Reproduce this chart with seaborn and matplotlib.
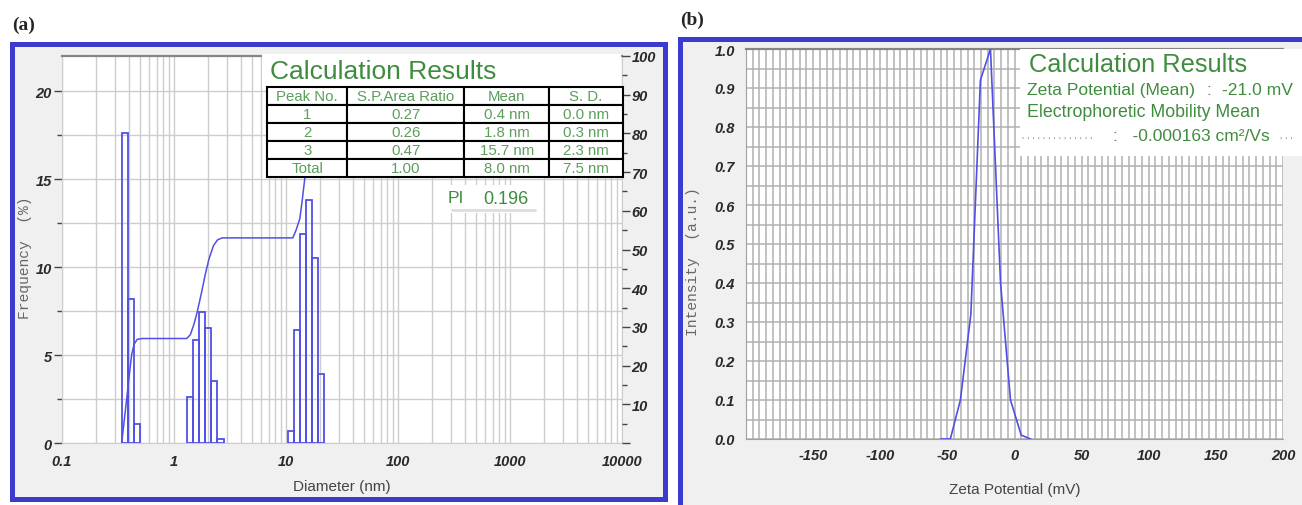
import numpy as np
import matplotlib.pyplot as plt
import matplotlib.ticker as mticker
from matplotlib.patches import Rectangle
from matplotlib.lines import Line2D
import seaborn as sns

# --- (a) size distribution: three peaks, bin edges (nm) and frequency (%) ---
peak1_edges = [0.341, 0.386, 0.437, 0.500]
peak1_freq = [17.6, 8.2, 1.1]
peak2_edges = [1.30, 1.47, 1.66, 1.89, 2.14, 2.44, 2.79]
peak2_freq = [2.6, 5.85, 7.45, 6.55, 3.5, 0.2]
peak3_edges = [10.5, 11.86, 13.3, 15.0, 17.2, 19.4, 22.0]
peak3_freq = [0.7, 6.4, 11.9, 13.8, 10.5, 3.9]

# cumulative curve (right axis, %)
cum_diam = [0.341, 0.36, 0.38, 0.40, 0.42, 0.44, 0.47, 0.52, 1.30, 1.40, 1.50, 1.60,
            1.75, 1.90, 2.05, 2.25, 2.45, 2.70, 11.5, 12.3, 13.3, 14.0, 14.8, 16.0,
            17.2, 18.5, 20.0, 22.0, 24.0]
cum_pct = [0, 6, 12, 18, 23, 25.5, 26.8, 27, 27, 28, 30.5, 33.5,
           38.5, 43.5, 47.5, 51, 52.5, 53, 53, 55, 58, 63, 69, 77,
           85, 92, 97, 99.5, 100]

table_cols = ["Peak No.", "S.P.Area Ratio", "Mean", "S. D."]
table_rows = [["1", "0.27", "0.4 nm", "0.0 nm"],
              ["2", "0.26", "1.8 nm", "0.3 nm"],
              ["3", "0.47", "15.7 nm", "2.3 nm"],
              ["Total", "1.00", "8.0 nm", "7.5 nm"]]
pi_value = "0.196"

# --- (b) zeta potential distribution ---
zeta_mv = [-55, -47.8, -40.3, -32.5, -25.4, -17.9, -10.4, -3.0, 5.0, 12.0]
zeta_int = [0, 0, 0.10, 0.32, 0.92, 1.0, 0.40, 0.10, 0.01, 0.0]
zeta_mean = "-21.0 mV"
mobility_mean = "-0.000163 cm\u00b2/Vs"

sns.set_style("white")
plt.rcParams['font.family'] = ['Liberation Sans', 'DejaVu Sans']

W, H = 1302, 506
blue_frame = '#3b3bd0'
line_blue = '#5050e6'
green = '#3f8c3f'
green_light = '#5c9e5c'
panel_bg = '#f0f0f0'
tick_font = dict(fontweight='bold', fontstyle='italic', color='#2a2a2a')


def fx(px):
    return px / W


def fy(py):
    return 1 - py / H


fig = plt.figure(figsize=(W / 100, H / 100), dpi=100)
fig.patch.set_facecolor('white')

# panel frames
fig.patches.append(Rectangle((fx(11.7), fy(499.5)), fx(664.7 - 11.7), (499.5 - 45) / H,
                             transform=fig.transFigure, facecolor=panel_bg,
                             edgecolor=blue_frame, linewidth=3.6, zorder=-1))
fig.patches.append(Rectangle((fx(679.5), fy(510)), fx(1320 - 679.5), (510 - 40.3) / H,
                             transform=fig.transFigure, facecolor=panel_bg,
                             edgecolor=blue_frame, linewidth=3.6, zorder=-1))
fig.lines.append(Line2D([fx(680), fx(1302)], [fy(504.5), fy(504.5)], transform=fig.transFigure,
                        color='#8f8fe8', linewidth=1.2, zorder=-1))

fig.text(fx(12), fy(25), "(a)", fontsize=14, fontweight='bold', family='Liberation Serif',
         va='center', ha='left')
fig.text(fx(680), fy(20), "(b)", fontsize=14, fontweight='bold', family='Liberation Serif',
         va='center', ha='left')

# ---------------- panel (a) ----------------
axa = fig.add_axes([fx(62), fy(444), fx(560), 387 / H])
axa.set_facecolor('white')
axa.set_xscale('log')
for edges, freq in [(peak1_edges, peak1_freq), (peak2_edges, peak2_freq), (peak3_edges, peak3_freq)]:
    e = np.array(edges)
    axa.bar(e[:-1], freq, width=np.diff(e), align='edge', fill=False,
            edgecolor=line_blue, linewidth=1.3, zorder=3)
axa.set_xlim(0.1, 10000)
axa.set_ylim(0, 22)
axa.xaxis.set_minor_locator(mticker.LogLocator(base=10, subs=np.arange(2, 10), numticks=30))
axa.xaxis.set_minor_formatter(mticker.NullFormatter())
axa.set_xticks([0.1, 1, 10, 100, 1000, 10000], ["0.1", "1", "10", "100", "1000", "10000"],
               fontsize=10.5, **tick_font)
axa.set_yticks([0, 5, 10, 15, 20], ["0", "5", "10", "15", "20"], fontsize=10.5, **tick_font)
axa.yaxis.set_minor_locator(mticker.MultipleLocator(2.5))
axa.grid(which='both', color='#cdcdcd', linewidth=1.0)
axa.set_axisbelow(True)
axa.tick_params(axis='both', which='major', direction='out', length=6, width=1, color='#444', pad=1.5)
axa.tick_params(axis='both', which='minor', direction='out', length=3.5, width=1, color='#444')
axa.tick_params(axis='x', which='major', length=5, pad=3)
for s in ['left', 'right', 'bottom']:
    axa.spines[s].set_color('#cdcdcd')
axa.spines['top'].set_color('#858585')
axa.spines['top'].set_linewidth(1.6)

axa2 = axa.twinx()
sns.lineplot(x=cum_diam, y=cum_pct, ax=axa2, color=line_blue, linewidth=1.1, zorder=4)
axa2.set_ylim(0, 100)
axa2.set_yticks(np.arange(0, 101, 10), [""] + [str(v) for v in range(10, 101, 10)],
                fontsize=10.5, **tick_font)
axa2.yaxis.set_minor_locator(mticker.MultipleLocator(5))
axa2.tick_params(axis='y', which='major', direction='out', length=6, width=1, color='#444', pad=1)
axa2.tick_params(axis='y', which='minor', direction='out', length=3.5, width=1, color='#444')
for s in axa2.spines.values():
    s.set_visible(False)
axa2.set_ylabel("")

# results box
axa2.add_patch(Rectangle((0.358, 0.915), 0.64, 0.09, transform=axa2.transAxes,
                         facecolor='white', edgecolor='none', zorder=9, clip_on=False))
axa2.text(0.371, 0.962, "Calculation Results", transform=axa2.transAxes, fontsize=19,
          color=green, ha='left', va='center', zorder=11)
tbl = axa2.table(cellText=table_rows, colLabels=table_cols, cellLoc='center',
                 colWidths=[0.225, 0.329, 0.239, 0.207],
                 bbox=[0.3666, 0.688, 0.6347, 0.2327])
tbl.auto_set_font_size(False)
tbl.set_fontsize(10.8)
tbl.set_zorder(12)
for cell in tbl.get_celld().values():
    cell.set_edgecolor('black')
    cell.set_linewidth(1.5)
    cell.set_facecolor('white')
    cell.get_text().set_color(green_light)

axa2.add_patch(Rectangle((0.680, 0.594), 0.17, 0.073, transform=axa2.transAxes,
                         facecolor='white', edgecolor='none', zorder=9))
axa2.plot([0.696, 0.845], [0.602, 0.602], transform=axa2.transAxes, color='#dddddd',
          linewidth=2, zorder=10)
axa2.text(0.689, 0.635, "PI", transform=axa2.transAxes, fontsize=12.5, color=green,
          ha='left', va='center', zorder=11)
axa2.text(0.752, 0.633, pi_value, transform=axa2.transAxes, fontsize=13, color=green,
          ha='left', va='center', zorder=11)

fig.text(fx(342), fy(487), "Diameter (nm)", fontsize=11, color='#444444', ha='center', va='center')
fig.text(fx(25), fy(258), "Frequency  (%)", fontsize=10.5, color='#666666', family='Liberation Mono',
         rotation=90, ha='center', va='center')

# ---------------- panel (b) ----------------
axb = fig.add_axes([fx(746), fy(440), fx(537), 390 / H])
axb.set_facecolor('white')
sns.lineplot(x=zeta_mv, y=zeta_int, ax=axb, color=line_blue, linewidth=1.2, zorder=4)
axb.set_xlim(-200, 200)
axb.set_ylim(0, 1.0)
axb.set_xticks(np.arange(-200, 201, 50), [""] + [str(v) for v in range(-150, 201, 50)],
               fontsize=10.5, **tick_font)
axb.set_yticks(np.round(np.arange(0, 1.01, 0.1), 1), [f"{v:.1f}" for v in np.arange(0, 1.01, 0.1)],
               fontsize=10.5, **tick_font)
axb.xaxis.set_minor_locator(mticker.MultipleLocator(5))
axb.yaxis.set_minor_locator(mticker.MultipleLocator(0.05))
axb.grid(which='both', color='#b0b0b0', linewidth=1.1)
axb.set_axisbelow(True)
axb.tick_params(axis='x', which='major', direction='inout', length=9, width=1.2, color='#333', pad=2)
axb.tick_params(axis='x', which='minor', direction='out', length=3, width=1.2, color='#333')
axb.tick_params(axis='y', which='major', direction='out', length=7, width=1, color='#333', pad=1)
axb.tick_params(axis='y', which='minor', direction='out', length=4, width=1, color='#333')
for s in ['left', 'right', 'bottom']:
    axb.spines[s].set_color('#a0a0a0')
axb.spines['right'].set_visible(False)
axb.spines['top'].set_color('#858585')
axb.spines['top'].set_linewidth(1.6)

axb.add_patch(Rectangle((0.510, 0.7256), 0.54, 0.2744, transform=axb.transAxes,
                        facecolor='white', edgecolor='none', zorder=9, clip_on=False))
axb.text(0.527, 0.9615, "Calculation Results", transform=axb.transAxes, fontsize=18.3,
         color=green, ha='left', va='center', zorder=11, clip_on=False)
axb.text(0.523, 0.895, "Zeta Potential (Mean)", transform=axb.transAxes, fontsize=12.6,
         color=green, ha='left', va='center', zorder=11, clip_on=False)
axb.text(0.858, 0.895, ":", transform=axb.transAxes, fontsize=12.6,
         color=green, ha='left', va='center', zorder=11, clip_on=False)
axb.text(0.886, 0.895, zeta_mean, transform=axb.transAxes, fontsize=12.6,
         color=green, ha='left', va='center', zorder=11, clip_on=False)
axb.text(0.523, 0.841, "Electrophoretic Mobility Mean", transform=axb.transAxes, fontsize=12.8,
         color=green, ha='left', va='center', zorder=11, clip_on=False)
axb.text(0.514, 0.764, "' ' ' ' ' ' ' ' ' ' ' ' ' '", transform=axb.transAxes, fontsize=8,
         color='#999999', ha='left', va='center', zorder=11, clip_on=False)
axb.text(0.683, 0.777, ":   " + mobility_mean, transform=axb.transAxes, fontsize=12.5,
         color=green, ha='left', va='center', zorder=11, clip_on=False)
axb.text(0.994, 0.764, "' ' '", transform=axb.transAxes, fontsize=8,
         color='#999999', ha='left', va='center', zorder=11, clip_on=False)

fig.text(fx(1015), fy(490), "Zeta Potential (mV)", fontsize=11, color='#444444', ha='center', va='center')
fig.text(fx(693), fy(262), "Intensity  (a.u.)", fontsize=10.5, color='#666666', family='Liberation Mono',
         rotation=90, ha='center', va='center')

fig.savefig("out.png", dpi=100)
